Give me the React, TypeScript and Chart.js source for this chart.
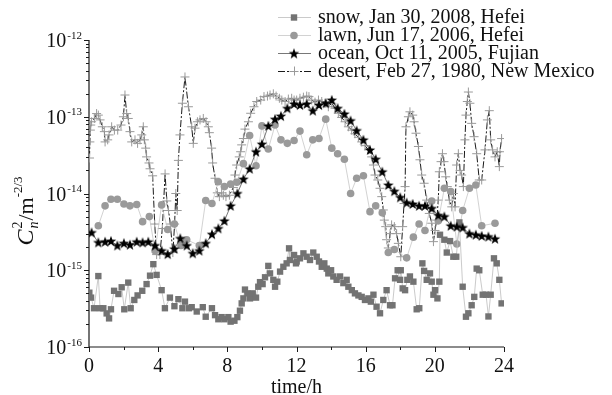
import React, { useEffect, useRef } from 'react';
import { Chart, registerables } from 'chart.js';

Chart.register(...registerables);

// ---------- data (time in hours, Cn2 in m^-2/3) ----------
const snowTime = [0.02, 0.12, 0.29, 0.54, 0.64, 0.83, 1.02, 1.16, 1.27, 1.45, 1.7, 1.89, 2.04, 2.27, 2.41, 2.62, 2.81, 3.08, 3.33, 3.53, 3.72, 3.91, 4.2, 4.39, 4.68, 4.94, 5.17, 5.4, 5.55, 5.78,
  5.94, 6.23, 6.58, 6.75, 7.11, 7.29, 7.48, 7.67, 7.83, 8.06, 8.19, 8.41, 8.58, 8.73, 8.83, 8.93, 9.02, 9.16, 9.31, 9.47, 9.66, 9.79, 9.89, 10.04, 10.18, 10.37, 10.47, 10.66, 10.76, 10.89, 11.05, 11.24, 11.43, 11.57, 11.62, 11.86, 11.97,
  12.01, 12.2, 12.4, 12.59, 12.78, 12.97, 13.17, 13.3, 13.46, 13.61, 13.75, 13.84, 14.0, 14.13, 14.32, 14.52, 14.71, 14.9, 15.0, 15.2, 15.38, 15.58, 15.77, 15.96, 16.16, 16.3, 16.45, 16.63, 16.83, 17.02, 17.21, 17.41, 17.55, 17.7, 17.85, 17.99,
  18.03, 18.14, 18.28, 18.41, 18.56, 18.76, 18.95, 19.1, 19.28, 19.38, 19.53, 19.72, 19.82, 19.92, 20.01, 20.15, 20.26, 20.3, 20.55, 20.69, 20.88, 21.07, 21.24, 21.42, 21.61, 21.8, 21.94, 22.13, 22.28, 22.42, 22.57, 22.77, 22.96, 23.1, 23.23, 23.42, 23.58, 23.73, 23.86];
const snowValue = [5.1e-16, 4.4e-16, 3.2e-16, 8.4e-16, 3.2e-16, 3.2e-16, 2.74e-16, 2.36e-16, 3.1e-16, 5.4e-16, 4.9e-16, 6.0e-16, 3.1e-16, 6.9e-16, 3.2e-16, 4.1e-16, 4.7e-16, 5.4e-16, 6.6e-16, 8.5e-16, 1.2e-15, 8.7e-16, 5.5e-16, 3.2e-16, 4.4e-16, 3.4e-16, 4.2e-16, 3.2e-16, 3.9e-16, 3.2e-16,
  3.3e-16, 2.9e-16, 3.3e-16, 2.48e-16, 3.2e-16, 2.6e-16, 2.3e-16, 2.45e-16, 2.3e-16, 2.45e-16, 2.14e-16, 2.2e-16, 2.45e-16, 2.97e-16, 3.7e-16, 4.3e-16, 5.6e-16, 5.0e-16, 4.3e-16, 5.0e-16, 4.4e-16, 6.1e-16, 7.0e-16, 6.6e-16, 8.1e-16, 1.14e-15, 9.1e-16, 7.5e-16, 6.1e-16, 7.1e-16, 9.6e-16, 1.11e-15, 1.23e-15, 1.93e-15, 1.36e-15, 1.58e-15, 1.23e-15,
  1.3e-15, 1.43e-15, 1.66e-15, 1.5e-15, 1.36e-15, 1.7e-15, 1.5e-15, 1.3e-15, 1.11e-15, 1.23e-15, 1.05e-15, 9.1e-16, 1.0e-15, 8.3e-16, 7.5e-16, 8.3e-16, 6.8e-16, 7.5e-16, 6.1e-16, 5.5e-16, 5.0e-16, 4.7e-16, 4.5e-16, 4.1e-16, 4.3e-16, 3.9e-16, 4.8e-16, 3.35e-16, 2.75e-16, 4.1e-16, 5.5e-16, 3.5e-16, 3.5e-16, 7.85e-16, 1.0e-15, 7.5e-16,
  1.0e-15, 5.8e-16, 5.5e-16, 7.5e-16, 8.3e-16, 7.1e-16, 3.1e-16, 3.2e-16, 1.23e-15, 9.8e-16, 7.5e-16, 9.1e-16, 7.1e-16, 4.8e-16, 5.5e-16, 4.3e-16, 7.1e-16, 2.9e-15, 2.5e-15, 1.7e-15, 2.4e-15, 1.5e-15, 1.5e-15, 4.2e-15, 6.1e-16, 2.48e-16, 2.75e-16, 3.5e-16, 4.5e-16, 1.05e-15, 1.0e-15, 4.8e-16, 4.8e-16, 2.5e-16, 4.8e-16, 1.43e-15, 1.23e-15, 7.5e-16, 3.7e-16];

const lawnTime = [0.54, 0.93, 1.27, 1.64, 2.02, 2.37, 2.76, 3.1, 3.49, 3.82, 4.2, 4.55, 4.94, 5.32, 5.65, 6.38, 6.75, 7.11, 7.48, 7.83, 8.19, 8.55, 8.93, 9.29, 9.66, 10.0, 10.37, 10.76, 11.1, 11.47, 11.86,
  12.2, 12.59, 12.94, 13.3, 13.69, 14.04, 14.38, 14.77, 15.13, 15.48, 15.87, 16.25, 16.58, 16.96, 17.31, 17.66, 18.37, 18.76, 19.09, 19.43, 19.82, 20.2, 20.55, 20.92, 21.27, 21.61, 22.0, 22.37, 22.71, 23.48];
const lawnValue = [3.8e-15, 6.9e-15, 8.4e-15, 8.4e-15, 7.3e-15, 6.9e-15, 7.2e-15, 4.3e-15, 5.0e-15, 1.8e-15, 7.1e-15, 3.4e-15, 4.0e-15, 2.1e-15, 2.5e-15, 2.1e-15, 8.1e-15, 7.4e-15, 1.42e-14, 1.23e-14, 1.33e-14, 1.4e-14, 2.45e-14, 5.7e-14, 2.3e-14, 7.6e-14, 3.8e-14, 7.8e-14, 5.0e-14, 4.5e-14, 4.9e-14,
  6.5e-14, 3.2e-14, 5.0e-14, 5.2e-14, 9.3e-14, 3.9e-14, 3.3e-14, 2.8e-14, 1.0e-14, 1.58e-14, 1.7e-14, 5.8e-15, 6.9e-15, 5.6e-15, 1.7e-15, 1.86e-15, 1.45e-15, 2.7e-15, 4.0e-15, 3.3e-15, 8.0e-15, 4.4e-15, 1.17e-14, 1.06e-14, 2.2e-15, 6.0e-15, 1.17e-14, 1.29e-14, 3.8e-15, 4.1e-15];

const oceanTime = [0.15, 0.54, 0.93, 1.27, 1.64, 2.02, 2.37, 2.76, 3.1, 3.43, 3.82, 4.2, 4.55, 4.94, 5.28, 5.65, 6.0, 6.38, 6.75, 7.11, 7.48, 7.83, 8.19, 8.58, 8.93, 9.29, 9.66, 10.0, 10.37, 10.76, 11.1, 11.47, 11.86,
  12.2, 12.59, 12.94, 13.3, 13.69, 14.04, 14.38, 14.77, 15.13, 15.48, 15.87, 16.25, 16.58, 16.96, 17.31, 17.66, 18.0, 18.37, 18.72, 19.09, 19.43, 19.82, 20.2, 20.55, 20.92, 21.27, 21.61, 22.0, 22.37, 22.71, 23.1, 23.48];
const oceanValue = [3.1e-15, 2.3e-15, 2.35e-15, 2.4e-15, 2.1e-15, 2.25e-15, 2.15e-15, 2.35e-15, 2.3e-15, 2.35e-15, 2.1e-15, 1.8e-15, 1.62e-15, 1.9e-15, 2.6e-15, 2.1e-15, 1.66e-15, 1.8e-15, 2.24e-15, 2.95e-15, 3.5e-15, 4.4e-15, 6.9e-15, 1.0e-14, 1.54e-14, 2.1e-14, 3.5e-14, 4.4e-14, 7.6e-14, 9.3e-14, 1.02e-13, 1.29e-13, 1.47e-13,
  1.42e-13, 1.47e-13, 1.2e-13, 1.42e-13, 1.5e-13, 1.65e-13, 1.29e-13, 1.09e-13, 8.9e-14, 6.6e-14, 5.0e-14, 3.7e-14, 2.8e-14, 1.92e-14, 1.29e-14, 1.07e-14, 8.9e-15, 7.6e-15, 7.3e-15, 6.9e-15, 6.9e-15, 6.4e-15, 5.2e-15, 5.0e-15, 3.8e-15, 3.7e-15, 3.6e-15, 3.0e-15, 2.9e-15, 2.8e-15, 2.74e-15, 2.57e-15];

const desertTime = [0.03, 0.05, 0.08, 0.1, 0.15, 0.31, 0.44, 0.54, 0.64, 0.77, 0.89, 0.93, 1.08, 1.16, 1.31, 1.47, 1.66, 1.85, 1.99, 2.08, 2.18, 2.27, 2.37, 2.47, 2.66, 2.81, 2.95, 3.05, 3.14, 3.2, 3.28, 3.33, 3.47, 3.53, 3.68, 3.8, 3.91,
  4.1, 4.24, 4.4, 4.5, 4.6, 4.7, 4.85, 4.95, 5.02, 5.1, 5.17, 5.26, 5.4, 5.55, 5.75, 5.94, 6.03, 6.13, 6.27, 6.42, 6.61, 6.77, 6.9, 6.96, 7.09, 7.15, 7.29, 7.42, 7.54, 7.67, 7.77, 7.92, 8.12, 8.35, 8.44, 8.54, 8.69, 8.77, 8.83, 8.93,
  9.02, 9.22, 9.35, 9.54, 9.7, 9.93, 10.12, 10.32, 10.47, 10.66, 10.82, 11.01, 11.15, 11.34, 11.53, 11.72, 11.86, 12.01, 12.2, 12.4, 12.59, 12.72, 12.88, 13.07, 13.27, 13.46, 13.65, 13.84, 14.04, 14.23, 14.42, 14.61, 14.81, 15.0,
  15.19, 15.38, 15.58, 15.77, 15.96, 16.16, 16.35, 16.45, 16.54, 16.7, 16.83, 16.93, 17.02, 17.08, 17.16, 17.21, 17.31, 17.41, 17.5, 17.66, 17.79, 17.89, 18.03, 18.14, 18.22, 18.28, 18.33, 18.47, 18.56, 18.72, 18.8, 18.91,
  19.05, 19.14, 19.24, 19.38, 19.53, 19.68, 19.82, 19.92, 20.01, 20.11, 20.2, 20.26, 20.36, 20.44, 20.53, 20.63, 20.72, 20.84, 20.98, 21.07, 21.17, 21.26, 21.36, 21.46, 21.55, 21.65, 21.74, 21.8, 21.88, 21.94, 22.03, 22.13,
  22.27, 22.42, 22.57, 22.71, 22.9, 23.04, 23.15, 23.23, 23.34, 23.48, 23.61, 23.73, 23.77, 23.86];
const desertValue = [2.9e-14, 4.7e-14, 6.7e-14, 7.8e-14, 8.6e-14, 9.5e-14, 1.1e-13, 1.05e-13, 9.1e-14, 7.4e-14, 6.4e-14, 4.7e-14, 5.0e-14, 5.8e-14, 7.4e-14, 6.7e-14, 6.7e-14, 7.8e-14, 1.0e-13, 1.92e-13, 1.1e-13, 9.5e-14, 6.4e-14, 4.7e-14, 5.0e-14, 4.5e-14, 5.0e-14, 5.8e-14, 7.4e-14, 5.0e-14, 3.9e-14, 3.0e-14, 2.5e-14, 2.1e-14, 1.7e-14, 4.0e-15, 1.6e-15,
  1.6e-15, 3.5e-15, 1.8e-14, 8.0e-15, 6.0e-15, 4.0e-15, 1.7e-15, 4.0e-15, 1.0e-14, 6.0e-15, 2.7e-14, 5.8e-14, 1.5e-13, 3.3e-13, 1.35e-13, 7.4e-14, 4.5e-14, 7.1e-14, 8.6e-14, 9.1e-14, 9.5e-14, 8.6e-14, 7.4e-14, 6.2e-14, 3.9e-14, 2.5e-14, 1.58e-14, 1.02e-14, 9.1e-15, 1.02e-14, 9.5e-15, 9.1e-15, 9.5e-15, 1.2e-14, 1.74e-14, 2.35e-14, 3.0e-14, 3.5e-14, 4.3e-14, 5.2e-14,
  6.9e-14, 8.6e-14, 1.11e-13, 1.35e-13, 1.58e-13, 1.65e-13, 1.83e-13, 1.86e-13, 1.92e-13, 1.99e-13, 1.86e-13, 1.74e-13, 1.65e-13, 1.58e-13, 1.7e-13, 1.74e-13, 1.65e-13, 1.65e-13, 1.74e-13, 1.8e-13, 1.86e-13, 1.83e-13, 1.65e-13, 1.55e-13, 1.65e-13, 1.58e-13, 1.5e-13, 1.35e-13, 1.5e-13, 1.29e-13, 1.11e-13, 9.8e-14, 8.6e-14, 7.4e-14,
  6.7e-14, 6.0e-14, 5.4e-14, 4.7e-14, 4.2e-14, 3.7e-14, 3.0e-14, 2.35e-14, 1.74e-14, 1.5e-14, 1.17e-14, 9.1e-15, 6.1e-15, 4.5e-15, 3.7e-15, 2.5e-15, 1.95e-15, 3.0e-15, 3.9e-15, 3.7e-15, 3.0e-15, 2.24e-15, 1.5e-15, 3.7e-15, 7.4e-15, 1.23e-14, 7.4e-14, 1.0e-13, 1.16e-13, 1.05e-13, 8.6e-14, 6.1e-14,
  4.1e-14, 2.75e-14, 1.74e-14, 1.36e-14, 8.2e-15, 5.5e-15, 4.1e-15, 2.36e-15, 3.3e-15, 4.5e-15, 8.2e-15, 1.92e-14, 2.6e-14, 3.3e-14, 2.6e-14, 1.65e-14, 1.23e-14, 8.2e-15, 6.7e-15, 1.0e-14, 6.7e-15, 2.35e-14, 3.3e-14, 2.0e-14, 1.74e-14, 1.23e-14, 5.0e-14, 1.05e-13, 1.58e-13, 2.1e-13, 1.5e-13, 8.2e-14,
  5.5e-14, 3.3e-14, 1.5e-14, 1.5e-14, 3.7e-14, 9.1e-14, 1.2e-13, 5.0e-14, 3.7e-14, 3.0e-14, 3.5e-14, 2.24e-14, 3.5e-14, 5.2e-14];

const seriesLabels = [
  'snow, Jan 30, 2008, Hefei',
  'lawn, Jun 17, 2006, Hefei',
  'ocean, Oct 11, 2005, Fujian',
  'desert, Feb 27, 1980, New Mexico',
];

const xTickValues = [0, 4, 8, 12, 16, 20, 24];
const xMinorTickValues = [2, 6, 10, 14, 18, 22];
const yTickValues = [1e-16, 1e-15, 1e-14, 1e-13, 1e-12];
const yTickExponents = ['-16', '-15', '-14', '-13', '-12'];
const xTitle = 'time/h';

const SERIF = '"Liberation Serif", "Times New Roman", serif';

function pts(t: number[], v: number[]) {
  return t.map((x, i) => ({ x, y: v[i] }));
}

function makeStar(): HTMLCanvasElement {
  const c = document.createElement('canvas');
  c.width = 12;
  c.height = 12;
  const ctx = c.getContext('2d')!;
  ctx.fillStyle = '#000';
  ctx.beginPath();
  const cx = 6, cy = 6.4, R = 5.6, r = 2.3;
  for (let i = 0; i < 10; i++) {
    const a = -Math.PI / 2 + (i * Math.PI) / 5;
    const rad = i % 2 === 0 ? R : r;
    const px = cx + rad * Math.cos(a);
    const py = cy + rad * Math.sin(a);
    if (i === 0) ctx.moveTo(px, py);
    else ctx.lineTo(px, py);
  }
  ctx.closePath();
  ctx.fill();
  return c;
}

const axesPlugin = {
  id: 'customAxes',
  beforeDatasetsDraw(chart: any) {
    const ctx: CanvasRenderingContext2D = chart.ctx;
    const xs = chart.scales.x;
    const ys = chart.scales.y;
    const { left, right, top, bottom } = chart.chartArea;
    ctx.save();
    ctx.strokeStyle = '#1a1a1a';
    ctx.lineWidth = 1.2;
    ctx.beginPath();
    ctx.moveTo(left, top);
    ctx.lineTo(left, bottom);
    ctx.lineTo(right, bottom);
    ctx.stroke();

    ctx.lineWidth = 1;
    ctx.beginPath();
    yTickValues.forEach((v) => {
      const y = Math.round(ys.getPixelForValue(v)) + 0.5;
      ctx.moveTo(left, y);
      ctx.lineTo(left - 5, y);
    });
    for (let d = 0; d < yTickValues.length - 1; d++) {
      for (let m = 2; m <= 9; m++) {
        const y = Math.round(ys.getPixelForValue(yTickValues[d] * m)) + 0.5;
        ctx.moveTo(left, y);
        ctx.lineTo(left - 3, y);
      }
    }
    xTickValues.forEach((v) => {
      const x = Math.round(xs.getPixelForValue(v)) + 0.5;
      ctx.moveTo(x, bottom);
      ctx.lineTo(x, bottom + 5);
    });
    xMinorTickValues.forEach((v) => {
      const x = Math.round(xs.getPixelForValue(v)) + 0.5;
      ctx.moveTo(x, bottom);
      ctx.lineTo(x, bottom + 3);
    });
    ctx.stroke();

    ctx.fillStyle = '#111';
    ctx.font = `20px ${SERIF}`;
    ctx.textAlign = 'center';
    ctx.textBaseline = 'alphabetic';
    xTickValues.forEach((v) => {
      ctx.fillText(String(v), xs.getPixelForValue(v), bottom + 25);
    });
    yTickValues.forEach((v, i) => {
      const y = ys.getPixelForValue(v);
      ctx.font = `11px ${SERIF}`;
      const ew = ctx.measureText(yTickExponents[i]).width;
      ctx.textAlign = 'right';
      ctx.fillText(yTickExponents[i], left - 7, y - 1.5);
      ctx.font = `20px ${SERIF}`;
      ctx.fillText('10', left - 8 - ew, y + 7);
    });
    ctx.font = `20px ${SERIF}`;
    ctx.textAlign = 'center';
    ctx.fillText(xTitle, (left + right) / 2, bottom + 46);

    // y title: C_n^2 / m^-2/3, rotated
    ctx.translate(left - 56, 211);
    ctx.rotate(-Math.PI / 2);
    ctx.textAlign = 'left';
    const parts: { text: string; font: string; dy: number; adv: boolean; dx: number }[] = [
      { text: 'C', font: `italic 24px ${SERIF}`, dy: 0, adv: true, dx: 0 },
      { text: 'n', font: `italic 14px ${SERIF}`, dy: 5, adv: false, dx: 0 },
      { text: '2', font: `14px ${SERIF}`, dy: -11, adv: true, dx: 1 },
      { text: '/m', font: `22px ${SERIF}`, dy: 0, adv: true, dx: 1 },
      { text: '-2/3', font: `13px ${SERIF}`, dy: -11, adv: true, dx: 0 },
    ];
    let total = 0;
    parts.forEach((p) => {
      ctx.font = p.font;
      if (p.adv) total += ctx.measureText(p.text).width + p.dx;
    });
    let cx = -total / 2;
    parts.forEach((p) => {
      ctx.font = p.font;
      ctx.fillText(p.text, cx + (p.text === 'n' ? 1 : p.dx), p.dy);
      if (p.adv) cx += ctx.measureText(p.text).width + p.dx;
    });
    ctx.restore();
  },
  afterDraw(chart: any) {
    const ctx: CanvasRenderingContext2D = chart.ctx;
    const rows = [17, 35, 53, 71];
    ctx.save();
    [0, 1, 2, 3].forEach((di, i) => {
      const ds = chart.data.datasets[di];
      const y = rows[i];
      ctx.strokeStyle = ds.borderColor;
      ctx.lineWidth = ds.borderWidth;
      ctx.setLineDash(ds.borderDash || []);
      ctx.beginPath();
      ctx.moveTo(278, y + 0.5);
      ctx.lineTo(311, y + 0.5);
      ctx.stroke();
      ctx.setLineDash([]);
      const mx = 294;
      if (di === 0) {
        ctx.fillStyle = ds.pointBackgroundColor;
        ctx.fillRect(mx - 3.2, y - 2.7, 6.4, 6.4);
      } else if (di === 1) {
        ctx.fillStyle = ds.pointBackgroundColor;
        ctx.beginPath();
        ctx.arc(mx, y + 0.5, 3.8, 0, Math.PI * 2);
        ctx.fill();
      } else if (di === 2) {
        const img = ds.pointStyle as HTMLCanvasElement;
        ctx.drawImage(img, mx - img.width / 2, y + 0.5 - img.height / 2);
      } else {
        ctx.strokeStyle = ds.pointBorderColor;
        ctx.lineWidth = 1;
        ctx.beginPath();
        ctx.moveTo(mx - 4.5, y + 0.5);
        ctx.lineTo(mx + 4.5, y + 0.5);
        ctx.moveTo(mx + 0.5, y - 4.5);
        ctx.lineTo(mx + 0.5, y + 4.5);
        ctx.stroke();
      }
      ctx.fillStyle = '#111';
      ctx.font = `20px ${SERIF}`;
      ctx.textAlign = 'left';
      ctx.textBaseline = 'alphabetic';
      ctx.fillText(seriesLabels[di], 318, y + 6);
    });
    ctx.restore();
  },
};

export default function App() {
  const ref = useRef<HTMLCanvasElement | null>(null);
  useEffect(() => {
    if (!ref.current) return;
    const star = makeStar();
    const chart = new Chart(ref.current, {
      type: 'line',
      data: {
        datasets: [
          {
            label: seriesLabels[0],
            data: pts(snowTime, snowValue),
            borderColor: '#bdbdbd',
            borderWidth: 0.8,
            pointStyle: 'rect',
            pointRadius: 4.5,
            pointBackgroundColor: '#737373',
            pointBorderWidth: 0,
            order: 1,
          } as any,
          {
            label: seriesLabels[1],
            data: pts(lawnTime, lawnValue),
            borderColor: '#c6c6c6',
            borderWidth: 0.8,
            pointStyle: 'circle',
            pointRadius: 3.8,
            pointBackgroundColor: '#9a9a9a',
            pointBorderWidth: 0,
            order: 2,
          } as any,
          {
            label: seriesLabels[2],
            data: pts(oceanTime, oceanValue),
            borderColor: '#555555',
            borderWidth: 0.8,
            pointStyle: star,
            pointBackgroundColor: '#000',
            order: 0,
          } as any,
          {
            label: seriesLabels[3],
            data: pts(desertTime, desertValue),
            borderColor: '#1a1a1a',
            borderWidth: 1,
            borderDash: [7, 2, 2, 2],
            pointStyle: 'cross',
            pointRadius: 4.5,
            pointBorderColor: '#9a9a9a',
            pointBackgroundColor: '#9a9a9a',
            pointBorderWidth: 1,
            order: 3,
          } as any,
        ],
      },
      options: {
        responsive: false,
        animation: false,
        devicePixelRatio: 1,
        events: [],
        layout: { padding: { left: 89, top: 40, right: 108, bottom: 48 } },
        elements: { line: { tension: 0 } },
        scales: {
          x: { type: 'linear', min: 0, max: 24, display: false },
          y: { type: 'logarithmic', min: 1e-16, max: 1e-12, display: false },
        },
        plugins: { legend: { display: false }, tooltip: { enabled: false } },
      } as any,
      plugins: [axesPlugin],
    });
    return () => chart.destroy();
  }, []);
  return (
    <div style={{ position: 'absolute', left: 0, top: 0, width: 612, height: 395, background: '#fff' }}>
      <canvas ref={ref} width={612} height={395} style={{ display: 'block' }} />
    </div>
  );
}
